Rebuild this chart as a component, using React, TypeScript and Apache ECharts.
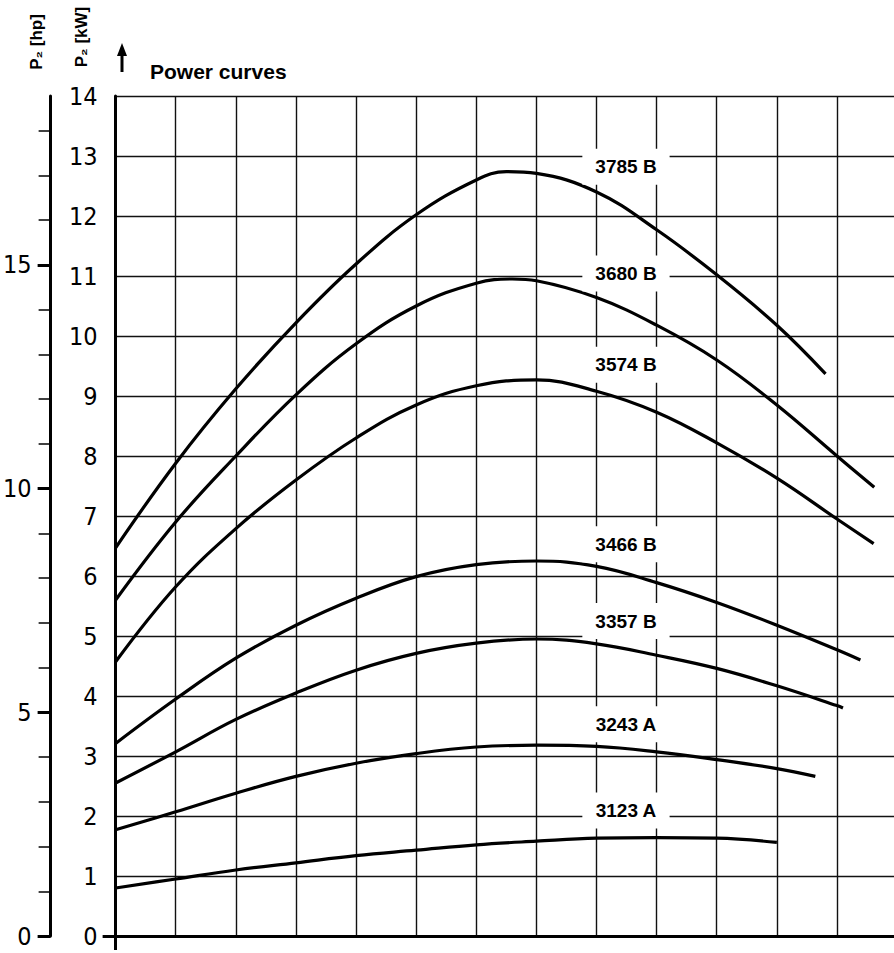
import React, { useEffect, useRef } from "react";
import * as echarts from "echarts";

// Curve data: x in grid columns, y in kW
const curveNames = ["3785 B", "3680 B", "3574 B", "3466 B", "3357 B", "3243 A", "3123 A"];

const x3785B = [0, 1, 2, 3, 4, 5, 6, 6.5, 7, 8, 9, 10, 11, 11.81];
const y3785B = [6.47, 7.88, 9.12, 10.22, 11.2, 12.02, 12.6, 12.74, 12.71, 12.4, 11.77, 11.02, 10.18, 9.37];

const x3680B = [0, 1, 2, 3, 4, 5, 6, 6.6, 7, 8, 9, 10, 11, 12, 12.62];
const y3680B = [5.6, 6.9, 8.0, 9.02, 9.87, 10.5, 10.88, 10.95, 10.92, 10.64, 10.18, 9.6, 8.85, 8.0, 7.48];

const x3574B = [0, 1, 2, 3, 4, 5, 6, 7, 8, 9, 10, 11, 12, 12.61];
const y3574B = [4.57, 5.82, 6.79, 7.6, 8.3, 8.85, 9.17, 9.27, 9.08, 8.73, 8.22, 7.63, 6.95, 6.54];

const x3466B = [0, 1, 2, 3, 4, 5, 6, 7, 8, 9, 10, 11, 12, 12.39];
const y3466B = [3.21, 3.95, 4.63, 5.18, 5.63, 5.99, 6.19, 6.25, 6.16, 5.89, 5.56, 5.18, 4.77, 4.6];

const x3357B = [0, 1, 2, 3, 4, 5, 6, 7, 8, 9, 10, 11, 12, 12.1];
const y3357B = [2.55, 3.07, 3.61, 4.05, 4.43, 4.71, 4.88, 4.95, 4.87, 4.68, 4.46, 4.17, 3.84, 3.8];

const x3243A = [0, 1, 2, 3, 4, 5, 6, 7, 8, 9, 10, 11, 11.64];
const y3243A = [1.77, 2.07, 2.38, 2.66, 2.88, 3.04, 3.15, 3.18, 3.16, 3.07, 2.94, 2.79, 2.66];

const x3123A = [0, 1, 2, 3, 4, 5, 6, 7, 8, 9, 10, 11];
const y3123A = [0.8, 0.95, 1.1, 1.22, 1.34, 1.43, 1.52, 1.58, 1.63, 1.64, 1.63, 1.56];

const curveX = [x3785B, x3680B, x3574B, x3466B, x3357B, x3243A, x3123A];
const curveY = [y3785B, y3680B, y3574B, y3466B, y3357B, y3243A, y3123A];

// Label anchors (data coordinates)
const labelX = 8.49;
const labelY = [12.82, 11.04, 9.52, 6.53, 5.25, 3.53, 2.09];

// Axis tick values
const kwMax = 14;
const xMax = 14;
const hpMax = 14 / 0.7457;
const hpTicks = [0, 1, 2, 3, 4, 5, 6, 7, 8, 9, 10, 11, 12, 13, 14, 15, 16, 17, 18];
const hpLabels = [0, 5, 10, 15];

const tickFont = "'Liberation Sans Narrow', 'DejaVu Sans Condensed', 'Liberation Sans', sans-serif";
const boldFont = "'Liberation Sans', 'DejaVu Sans', Arial, sans-serif";

export default function App() {
  const ref = useRef<HTMLDivElement>(null);

  useEffect(() => {
    if (!ref.current) return;
    const chart = echarts.init(ref.current, null, { renderer: "svg" });

    const lineSeries = curveNames.map((name, i) => ({
      type: "line",
      name,
      data: curveX[i].map((x, j) => [x, curveY[i][j]]),
      smooth: 0.4,
      symbol: "none",
      lineStyle: { color: "#000", width: 3.2 },
      xAxisIndex: 0,
      yAxisIndex: 0,
      z: 3,
    }));

    const labelSeries = {
      type: "scatter",
      data: curveNames.map((n, i) => [labelX, labelY[i], n]),
      symbol: "rect",
      symbolSize: 1,
      itemStyle: { color: "rgba(255,255,255,0)", opacity: 1 },
      xAxisIndex: 0,
      yAxisIndex: 0,
      z: 10,
      label: {
        show: true,
        position: "inside",
        formatter: (p: any) => p.data[2],
        color: "#000",
        opacity: 1,
        fontFamily: boldFont,
        fontWeight: "bold",
        fontSize: 19,
        backgroundColor: "#fff",
        padding: [9, 13, 8, 13],
      },
    };

    chart.setOption({
      animation: false,
      backgroundColor: "#fff",
      grid: { left: 113, top: 96, width: 14 * 60.3, height: 840 },
      xAxis: [
        {
          type: "value",
          min: 0,
          max: xMax,
          interval: 1,
          axisLine: { show: true, onZero: false, lineStyle: { color: "#000", width: 3 } },
          axisTick: { show: false },
          axisLabel: { show: false },
          splitLine: { show: true, lineStyle: { color: "#111", width: 1.4 } },
        },
        {
          type: "value",
          min: 0,
          max: xMax,
          position: "bottom",
          axisLine: { show: false, onZero: false },
          axisTick: { show: true, customValues: [0], length: 14, lineStyle: { color: "#000", width: 3 } },
          axisLabel: { show: false },
          splitLine: { show: false },
        },
      ],
      yAxis: [
        {
          type: "value",
          min: 0,
          max: kwMax,
          interval: 1,
          axisLine: { show: true, onZero: false, lineStyle: { color: "#000", width: 3 } },
          axisTick: { show: false },
          axisLabel: {
            show: true,
            margin: 18,
            color: "#000",
            fontFamily: tickFont,
            fontSize: 25,
          },
          splitLine: { show: true, lineStyle: { color: "#111", width: 1.4 } },
        },
        {
          type: "value",
          min: 0,
          max: kwMax,
          position: "left",
          axisLine: { show: false, onZero: false },
          axisTick: { show: true, customValues: [0], length: 13, lineStyle: { color: "#000", width: 3 } },
          axisLabel: { show: false },
          splitLine: { show: false },
        },
        {
          type: "value",
          min: 0,
          max: hpMax,
          position: "left",
          offset: 65,
          axisLine: { show: true, onZero: false, lineStyle: { color: "#000", width: 3 } },
          axisTick: { show: true, customValues: hpTicks, length: 12, lineStyle: { color: "#000", width: 1.5 } },
          axisLabel: { show: false },
          splitLine: { show: false },
        },
        {
          type: "value",
          min: 0,
          max: hpMax,
          position: "left",
          offset: 65,
          axisLine: { show: false, onZero: false },
          axisTick: { show: true, customValues: hpLabels, length: 13, lineStyle: { color: "#000", width: 3 } },
          axisLabel: {
            show: true,
            customValues: hpLabels,
            margin: 19,
            color: "#000",
            fontFamily: tickFont,
            fontSize: 25,
          },
          splitLine: { show: false },
        },
      ],
      graphic: [
        {
          type: "text",
          x: 150,
          y: 71,
          style: {
            text: "Power curves",
            fontFamily: boldFont,
            fontWeight: "bold",
            fontSize: 21,
            fill: "#000",
            align: "left",
            verticalAlign: "middle",
          },
        },
        {
          type: "line",
          shape: { x1: 122, y1: 52, x2: 122, y2: 72 },
          style: { stroke: "#000", lineWidth: 3 },
        },
        {
          type: "polygon",
          shape: { points: [[122, 43], [117, 56], [127, 56]] },
          style: { fill: "#000" },
        },
        {
          type: "text",
          x: 36,
          y: 42,
          rotation: Math.PI / 2,
          style: {
            text: "P\u2082 [hp]",
            fontFamily: boldFont,
            fontWeight: "bold",
            fontSize: 17,
            fill: "#000",
            align: "center",
            verticalAlign: "middle",
          },
        },
        {
          type: "text",
          x: 81,
          y: 37,
          rotation: Math.PI / 2,
          style: {
            text: "P\u2082 [kW]",
            fontFamily: boldFont,
            fontWeight: "bold",
            fontSize: 17,
            fill: "#000",
            align: "center",
            verticalAlign: "middle",
          },
        },
      ],
      series: [...lineSeries, labelSeries],
    });

    return () => chart.dispose();
  }, []);

  return (
    <div
      style={{
        position: "absolute",
        left: 0,
        top: 0,
        width: 894,
        height: 953,
        overflow: "hidden",
        background: "#fff",
      }}
    >
      <div ref={ref} style={{ width: 1000, height: 953 }} />
    </div>
  );
}
